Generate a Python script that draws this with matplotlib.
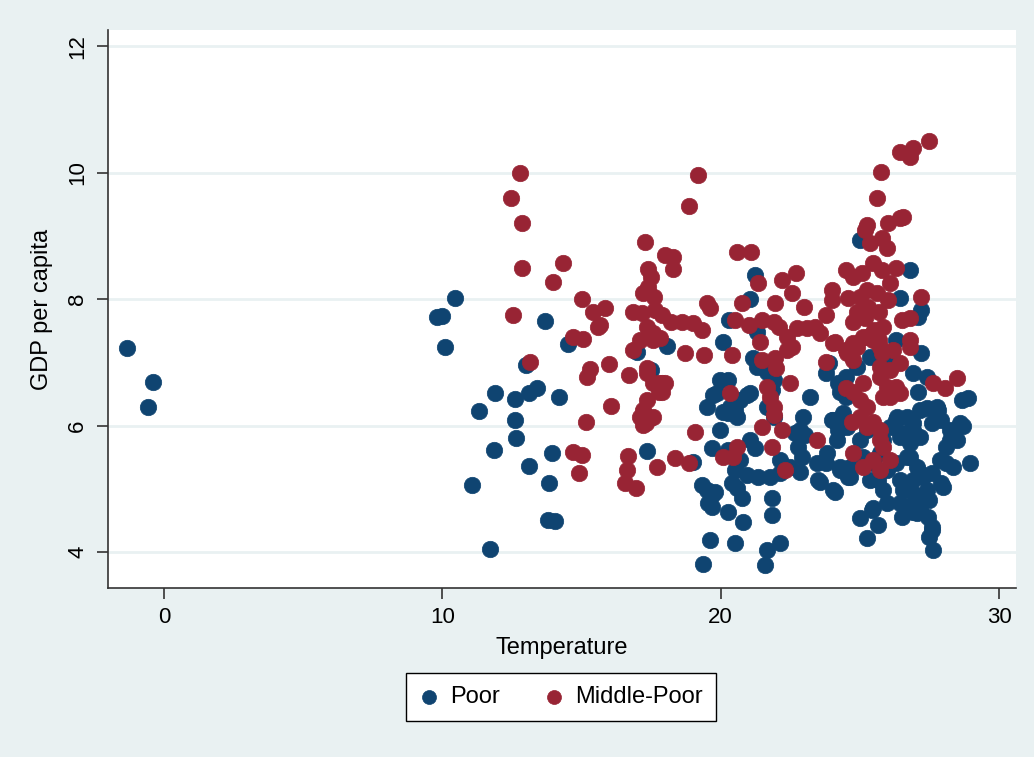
import numpy as np
import matplotlib
matplotlib.use("Agg")
from matplotlib import pyplot as plt

# (temperature, log GDP per capita)
poor = [
    (-1.33, 7.23), (-0.4, 6.69), (-0.57, 6.3),
    (9.8, 7.72), (10.0, 7.73), (10.46, 8.02), (10.1, 7.24),
    (13.7, 7.65), (14.5, 7.29), (13.0, 6.96), (17.0, 7.16), (18.07, 7.26), (17.5, 6.88),
    (11.9, 6.52), (12.6, 6.42), (11.3, 6.23), (13.1, 6.52), (13.4, 6.6), (14.2, 6.45),
    (12.6, 6.09), (12.65, 5.8), (11.86, 5.61), (13.94, 5.56), (13.1, 5.36), (11.07, 5.06),
    (13.84, 5.09), (13.8, 4.51), (14.05, 4.49), (11.7, 4.05), (17.35, 5.6), (19.0, 5.42),
    (21.24, 8.38), (21.05, 8.0), (20.3, 7.67), (20.1, 7.32), (21.3, 7.48),
    (25.0, 8.94), (26.8, 8.46), (26.45, 8.02), (27.2, 7.83), (27.1, 7.72), (26.3, 7.35), (27.2, 7.15),
    (23.2, 6.45), (22.96, 6.14), (19.98, 6.72), (20.27, 6.72), (19.87, 6.51), (19.5, 6.3),
    (20.34, 6.3), (20.7, 6.4), (21.05, 6.51), (20.6, 6.14), (20.27, 6.2), (21.16, 7.07),
    (21.3, 6.93), (21.67, 6.85), (21.9, 6.72), (21.85, 6.56), (21.67, 6.3), (21.9, 6.14),
    (19.98, 5.93), (19.7, 5.65), (20.27, 5.61), (21.05, 5.77), (21.24, 5.65), (20.7, 5.46),
    (20.5, 5.3), (20.95, 5.22), (20.4, 5.09), (20.6, 5.01), (20.77, 4.85), (20.27, 4.63), (20.8, 4.47),
    (19.33, 5.06), (19.5, 4.98), (19.7, 4.9), (19.55, 4.78), (19.8, 4.95), (19.7, 4.71),
    (19.6, 4.19), (20.5, 4.14), (19.37, 3.81), (21.67, 4.03), (22.13, 4.14), (21.6, 3.79),
    (21.85, 4.85), (21.85, 4.59), (21.35, 5.19), (21.77, 5.19), (22.13, 5.25), (22.13, 5.46),
    (22.85, 5.27), (22.5, 5.35), (22.67, 5.88), (23.03, 5.85), (22.78, 5.66), (22.92, 5.5),
    (23.46, 5.41), (23.5, 5.14), (19.73, 6.48), (20.1, 6.22), (20.5, 6.25), (20.95, 6.48),
    (26.9, 6.83), (27.4, 6.77), (27.1, 6.53),
    (23.8, 6.83), (24.2, 6.67), (24.3, 6.53), (24.5, 6.45), (23.9, 6.99),
    (24.0, 6.09), (24.4, 6.2), (24.2, 5.93), (24.55, 5.98), (23.8, 5.41), (23.57, 5.11),
    (24.1, 4.95), (24.58, 5.19), (24.3, 5.3), (24.65, 5.35),
    (25.65, 5.14), (25.98, 5.3), (26.3, 5.41), (26.8, 5.5), (27.06, 5.34), (26.45, 5.14),
    (26.9, 5.14), (27.27, 5.19), (27.6, 5.25), (27.9, 5.09), (28.1, 5.41), (27.4, 4.98),
    (26.9, 4.93), (26.7, 4.71),
    (25.0, 4.54), (25.44, 4.66), (25.65, 4.43), (25.26, 4.22),
    (25.98, 4.78), (26.45, 4.78), (26.9, 4.63), (27.16, 4.66), (27.45, 4.55), (27.6, 4.4),
    (27.5, 4.24), (27.63, 4.03),
    (26.3, 6.09), (26.7, 6.14), (26.9, 5.93), (26.45, 5.82), (26.8, 5.72), (27.16, 5.82),
    (27.9, 6.09), (28.24, 5.93), (28.5, 5.77), (28.1, 5.66), (28.66, 6.4), (28.9, 6.43),
    (28.7, 6.0), (28.96, 5.41), (27.4, 6.28), (27.8, 6.25), (27.6, 6.04), (22.85, 5.93),
    (25.26, 5.93), (25.0, 5.77), (25.1, 5.5), (25.48, 5.41), (25.73, 5.57), (25.83, 5.77), (26.1, 5.98),
    (24.5, 6.77), (24.9, 6.93), (25.37, 7.09), (25.73, 7.15), (25.98, 7.04),
    (26.55, 4.98), (27.06, 4.87), (27.5, 4.82), (27.99, 5.03), (28.35, 5.35), (28.6, 6.04),
    (28.24, 5.77), (27.88, 5.46), (27.16, 5.25), (26.7, 5.5), (26.55, 5.88), (26.34, 6.14),
    (26.9, 6.04), (27.16, 6.25), (27.78, 6.29), (24.04, 6.09), (24.18, 5.77), (23.82, 5.57),
    (24.04, 4.98), (24.65, 5.19), (24.29, 5.35), (25.37, 5.14), (25.84, 4.98), (25.48, 4.7),
    (26.52, 4.55), (27.06, 4.62), (27.6, 4.35),
]

middle_poor = [
    (12.8, 10.0), (12.47, 9.6), (12.87, 9.2), (12.86, 8.49), (14.34, 8.57), (13.98, 8.27),
    (12.54, 7.75), (15.0, 8.0), (15.4, 7.8), (15.85, 7.86), (15.67, 7.59), (16.86, 7.8),
    (17.28, 8.9), (18.86, 9.47), (19.2, 9.96), (18.0, 8.7), (18.3, 8.67), (18.3, 8.48),
    (17.4, 8.48), (17.5, 8.35), (17.4, 8.19), (17.2, 8.1), (17.6, 8.03), (17.64, 7.83),
    (17.9, 7.75), (18.2, 7.64), (18.6, 7.64), (19.0, 7.62), (19.33, 7.51),
    (13.15, 7.0), (14.7, 7.4), (15.06, 7.37), (15.6, 7.56), (15.3, 6.9), (15.2, 6.77),
    (16.0, 6.97), (16.06, 6.31), (15.16, 6.06), (14.7, 5.58), (15.0, 5.53), (14.9, 5.25),
    (16.67, 5.52), (16.64, 5.3), (16.56, 5.09), (16.96, 5.01), (17.7, 5.34), (18.36, 5.49),
    (18.86, 5.41), (19.08, 5.9), (16.85, 7.2), (16.7, 6.8), (17.35, 6.91), (17.9, 6.67),
    (17.9, 6.53), (17.35, 6.4), (17.2, 6.25), (17.57, 6.14), (17.3, 6.04), (18.7, 7.15),
    (17.18, 7.78), (17.35, 7.56), (17.57, 7.47), (17.82, 7.39), (17.1, 7.35),
    (20.6, 8.75), (21.1, 8.75), (19.5, 7.94), (19.6, 7.86), (20.77, 7.94), (21.35, 8.26),
    (22.2, 8.3), (22.7, 8.41), (22.57, 8.1), (21.95, 7.94), (23.0, 7.88), (20.5, 7.67),
    (21.0, 7.59), (21.5, 7.67), (21.9, 7.64), (22.1, 7.56), (22.4, 7.4), (22.75, 7.54),
    (23.1, 7.54), (23.4, 7.56), (21.4, 7.32), (19.4, 7.12), (20.4, 7.12),
    (27.5, 10.5), (26.9, 10.4), (26.45, 10.33), (26.8, 10.25), (25.76, 10.01), (25.6, 9.6),
    (25.26, 9.17), (25.2, 9.09), (25.37, 8.89), (26.0, 9.2), (26.45, 9.28), (26.55, 9.3),
    (25.8, 8.97), (25.98, 8.81),
    (24.5, 8.46), (24.76, 8.35), (25.08, 8.41), (25.48, 8.57), (25.8, 8.46), (26.3, 8.49),
    (26.1, 8.26), (27.2, 8.03),
    (24.0, 8.15), (24.0, 7.99), (24.58, 8.02), (25.0, 8.03), (25.26, 8.15), (25.6, 8.1),
    (26.0, 7.99), (25.3, 7.88), (24.9, 7.8), (25.2, 7.7), (25.7, 7.79), (25.83, 7.56),
    (25.5, 7.51), (24.77, 7.64), (26.5, 7.67), (26.8, 7.7), (23.8, 7.75),
    (24.1, 7.32), (24.76, 7.31), (25.26, 7.4), (25.7, 7.35), (26.8, 7.35), (23.57, 7.46),
    (26.8, 7.24), (25.8, 7.15), (24.9, 7.24), (24.55, 7.15),
    (17.35, 6.83), (17.57, 6.67), (17.8, 6.67), (18.0, 6.67), (17.8, 6.53), (17.1, 6.14),
    (17.46, 6.12), (17.2, 6.01), (17.57, 7.35),
    (21.5, 7.04), (21.95, 7.07), (22.0, 6.91), (22.4, 7.2), (22.57, 7.24), (22.5, 6.67),
    (20.34, 6.51), (21.67, 6.61), (21.77, 6.45), (21.9, 6.3), (21.9, 6.17), (21.5, 5.98),
    (22.2, 5.93), (21.85, 5.66), (23.46, 5.77), (20.6, 5.66), (20.1, 5.5), (20.45, 5.5), (22.3, 5.3),
    (23.8, 7.0), (24.05, 7.31), (24.5, 7.2), (24.76, 7.04), (25.1, 7.4), (25.48, 7.35),
    (25.73, 7.24), (26.2, 7.2), (26.45, 6.99), (26.1, 6.88), (25.73, 6.93),
    (24.5, 6.6), (24.76, 6.53), (25.1, 6.67), (25.0, 6.4), (25.26, 6.29), (25.73, 6.77),
    (25.98, 6.61), (25.83, 6.45), (26.3, 6.61), (26.45, 6.51), (26.1, 6.45),
    (24.73, 6.06), (25.0, 6.14), (25.26, 5.98), (25.48, 6.06), (25.73, 5.93), (25.73, 5.77),
    (25.83, 5.66), (24.76, 5.57), (25.1, 5.35), (25.48, 5.46), (25.73, 5.3), (26.1, 5.46),
    (27.63, 6.67), (28.06, 6.6), (28.5, 6.75),
]

xticks = [0, 10, 20, 30]
yticks = [4, 6, 8, 10, 12]

bg = "#e9f1f2"
navy = "#0f4471"
maroon = "#982434"

plt.rcParams['font.family'] = ['Liberation Sans', 'DejaVu Sans']

fig = plt.figure(figsize=(10.34, 7.57), dpi=100, facecolor=bg)
ax = fig.add_axes([0.104, 0.2233, 0.8786, 0.7371])
ax.set_facecolor("white")

p = np.array(poor)
m = np.array(middle_poor)
ax.scatter(p[:, 0], p[:, 1], s=140, color=navy, edgecolors=navy, linewidths=0.5, label="Poor", zorder=3)
ax.scatter(m[:, 0], m[:, 1], s=140, color=maroon, edgecolors=maroon, linewidths=0.5, label="Middle-Poor", zorder=4)

ax.set_xlim(-2.03, 30.61)
ax.set_ylim(3.43, 12.26)
ax.set_xticks(xticks)
ax.set_yticks(yticks)
ax.yaxis.grid(True, color=bg, linewidth=2)
ax.set_axisbelow(True)

for s in ["top", "right"]:
    ax.spines[s].set_visible(False)
for s in ["left", "bottom"]:
    ax.spines[s].set_color("#333333")
    ax.spines[s].set_linewidth(1.2)

ax.tick_params(axis="both", direction="out", length=8, width=1.2, color="#333333", labelsize=16)
ax.tick_params(axis="x", pad=6)
ax.tick_params(axis="y", pad=6)
for lab in ax.get_yticklabels():
    lab.set_rotation(90)
    lab.set_va("center")

ax.set_xlabel("Temperature", fontsize=17, labelpad=6)
ax.set_ylabel("GDP per capita", fontsize=17, labelpad=10)

leg = fig.legend(loc="center", bbox_to_anchor=(0.5426, 0.0793), ncol=2, fontsize=17,
                 frameon=True, fancybox=False, edgecolor="black", framealpha=1,
                 handlelength=0.8, handletextpad=0.5, columnspacing=1.9, borderpad=0.55,
                 borderaxespad=0.3, markerscale=0.85)
leg.get_frame().set_linewidth(1.0)

fig.savefig("out.png", dpi=100, facecolor=bg)
